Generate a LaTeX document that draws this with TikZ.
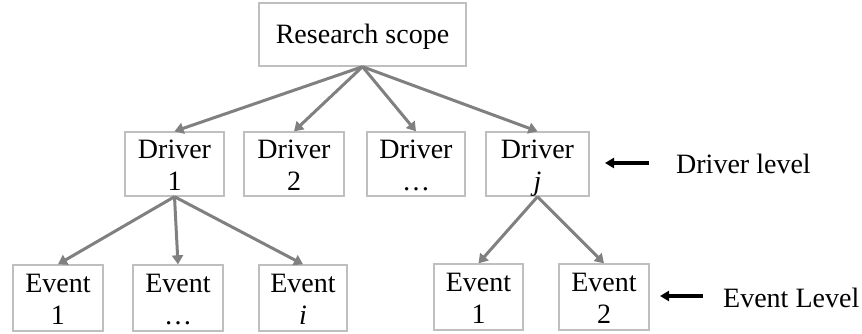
\documentclass[tikz,border=0pt]{standalone}
\usepackage{fontspec}
\setmainfont{Liberation Serif}
\usetikzlibrary{arrows.meta}
\definecolor{boxgray}{HTML}{BFBFBF}
\definecolor{arrgray}{HTML}{808080}
\newcommand{\lnstrut}{\rule[-4pt]{0pt}{28pt}}
\begin{document}
\begin{tikzpicture}[x=1pt,y=-1pt,
  box/.style={draw=boxgray, line width=1.4pt, inner sep=0pt, align=center,
    font=\fontsize{28}{32}\selectfont},
  conn/.style={draw=arrgray, line width=3pt, -{Triangle[length=9pt,width=11pt]}},
  lvlarrow/.style={draw=black, line width=3.2pt, -{Triangle[length=9pt,width=10pt]}},
  lvltext/.style={anchor=base west, inner sep=0pt, font=\fontsize{28}{32}\selectfont}]
\useasboundingbox (0,0) rectangle (862,333);
% top
\node[box, minimum width=207pt, minimum height=63pt] (scope) at (362.5,34.5) {\lnstrut Research scope};
% drivers
\node[box, minimum width=99pt, minimum height=64pt] (d1) at (174.5,164) {\lnstrut Driver\\\lnstrut 1};
\node[box, minimum width=100pt, minimum height=64pt] (d2) at (294,164) {\lnstrut Driver\\\lnstrut 2};
\node[box, minimum width=98pt, minimum height=64pt] (d3) at (416,164) {\lnstrut Driver\\\lnstrut\dots};
\node[box, minimum width=103pt, minimum height=64pt] (dj) at (537.5,164) {\lnstrut Driver\\\lnstrut\smash{\textit{j}}};
% events
\node[box, minimum width=90pt, minimum height=66pt] (e1) at (58,298) {\lnstrut Event\\\lnstrut 1};
\node[box, minimum width=90pt, minimum height=66pt] (e2) at (178,298) {\lnstrut Event\\\lnstrut\dots};
\node[box, minimum width=88pt, minimum height=66pt] (ei) at (303,298) {\lnstrut Event\\\lnstrut\textit{i}};
\node[box, minimum width=89pt, minimum height=66pt] (f1) at (478.5,297) {\lnstrut Event\\\lnstrut 1};
\node[box, minimum width=90pt, minimum height=66pt] (f2) at (604,297) {\lnstrut Event\\\lnstrut 2};
% connectors
\draw[conn] (scope.south) -- (d1.north);
\draw[conn] (scope.south) -- (d2.north);
\draw[conn] (scope.south) -- (d3.north);
\draw[conn] (scope.south) -- (dj.north);
\draw[conn] (d1.south) -- (e1.north);
\draw[conn] (d1.south) -- (e2.north);
\draw[conn] (d1.south) -- (ei.north);
\draw[conn] (dj.south) -- (f1.north);
\draw[conn] (dj.south) -- (f2.north);
% level labels
\node[lvltext] (dlvl) at (676,173) {Driver level};
\node[lvltext] (elvl) at (723,307) {Event Level};
\coordinate (da1) at (649,163);
\coordinate (da2) at (605,163);
\coordinate (ea1) at (703,296);
\coordinate (ea2) at (660,296);
\draw[lvlarrow] (da1) -- (da2);
\draw[lvlarrow] (ea1) -- (ea2);
\end{tikzpicture}
\end{document}
